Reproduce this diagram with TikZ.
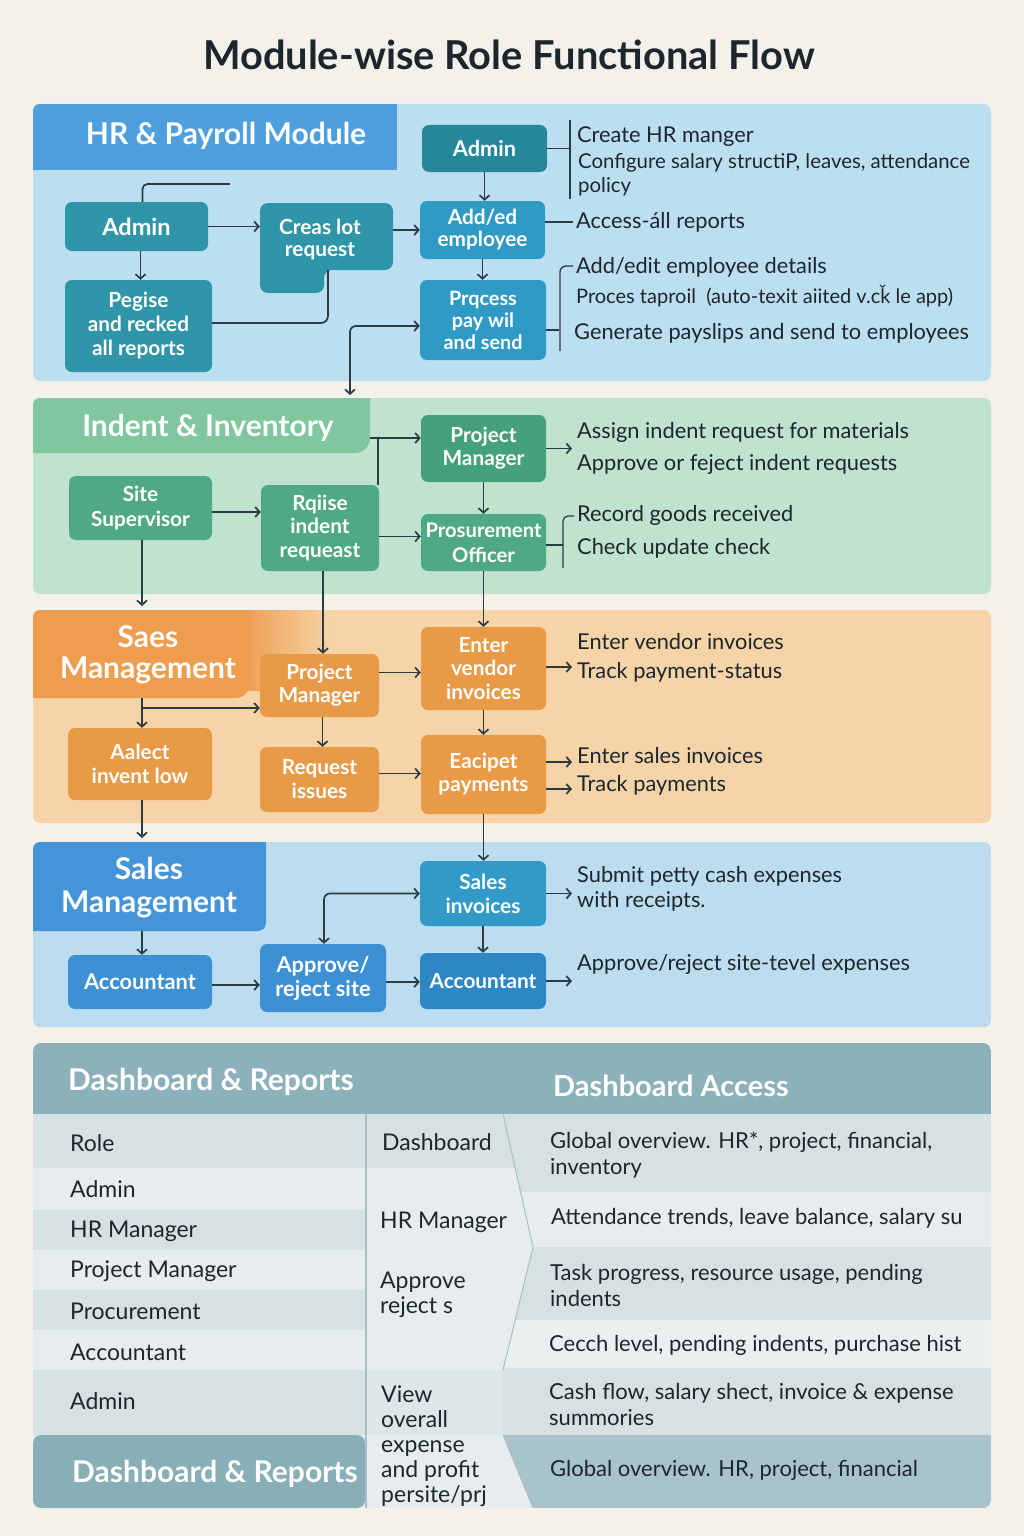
\documentclass[tikz,border=0pt]{standalone}
\usepackage{fontspec}
\setmainfont{Lato}
\usetikzlibrary{arrows.meta,calc}

\definecolor{pagebg}{HTML}{F4F1EB}
\definecolor{inkc}{HTML}{1D262C}
\definecolor{linec}{HTML}{2C3A42}
\definecolor{hrpanel}{HTML}{BCDEF1}
\definecolor{hrtab}{HTML}{4D9FDD}
\definecolor{hrteal}{HTML}{2F95A8}
\definecolor{hrteald}{HTML}{24879A}
\definecolor{hrblue}{HTML}{2F9AC4}
\definecolor{grpanel}{HTML}{C0E3CF}
\definecolor{grtab}{HTML}{80C69E}
\definecolor{grnode}{HTML}{50A985}
\definecolor{grnoded}{HTML}{45A07C}
\definecolor{orpanel}{HTML}{F6D4A7}
\definecolor{ortab}{HTML}{EE9C4E}
\definecolor{ornode}{HTML}{E99A47}
\definecolor{blpanel}{HTML}{BCDDF0}
\definecolor{bltab}{HTML}{4594D8}
\definecolor{blnode}{HTML}{3C90D3}
\definecolor{blteal}{HTML}{3399C8}
\definecolor{blnoded}{HTML}{2E87C5}
\definecolor{dbhead}{HTML}{8DB1BA}
\definecolor{dbfoot}{HTML}{88AEB7}
\definecolor{dbrowa}{HTML}{D6E1E3}
\definecolor{dbrowb}{HTML}{E7EDEE}
\definecolor{dbrowc}{HTML}{EAEFF0}
\definecolor{dbmid}{HTML}{E7EDEE}
\definecolor{dbmidd}{HTML}{DDE6E8}
\definecolor{dbfootr}{HTML}{A9C3CA}
\definecolor{dbedge}{HTML}{A9BFC5}

\begin{document}
\begin{tikzpicture}[x=1pt,y=-1pt,
  conn/.style={draw=linec,line width=1.7pt},
  arr/.style={conn,-{Straight Barb[length=4.5pt,width=10pt]}},
  arrs/.style={conn,{Straight Barb[length=4.5pt,width=10pt]}-{Straight Barb[length=4.5pt,width=10pt]}},
  tick/.style={draw=linec,line width=1.3pt},
  flowbox/.style={rounded corners=7pt,text=white,align=center,inner sep=0pt,
    font=\bfseries\fontsize{20.8}{23}\selectfont},
  headtxt/.style={text=white,align=center,inner sep=0pt,
    font=\bfseries\fontsize{30}{32}\selectfont},
  note/.style={anchor=west,text=inkc,inner sep=0pt,align=left,
    font=\fontsize{21.8}{25}\selectfont},
  smallnote/.style={note,font=\fontsize{20.4}{24}\selectfont},
  cell/.style={anchor=west,text=inkc,inner sep=0pt,align=left,
    font=\fontsize{23}{25}\selectfont},
  rcell/.style={anchor=west,text=inkc,inner sep=0pt,align=left,
    font=\fontsize{22}{26}\selectfont}
]
\useasboundingbox (0,0) rectangle (1024,1536);
\fill[pagebg] (0,0) rectangle (1024,1536);

% ---------- title ----------
\node[text=inkc,font=\bfseries\fontsize{39.8}{44}\selectfont] (title) at (509,55) {Module-wise Role Functional Flow};

% ---------- panels and tabs ----------
\fill[hrpanel, rounded corners=7pt] (33,104) rectangle (991,381);
\begin{scope}
  \clip[rounded corners=7pt] (33,104) rectangle (991,381);
  \fill[hrtab] (33,104) rectangle (397,170);
\end{scope}

\fill[grpanel, rounded corners=7pt] (33,398) rectangle (991,594);
\begin{scope}
  \clip[rounded corners=7pt] (33,398) rectangle (991,594);
  \fill[grtab, rounded corners=15pt] (10,370) rectangle (370,453);
\end{scope}

\fill[orpanel, rounded corners=7pt] (33,610) rectangle (991,823);
\begin{scope}
  \clip[rounded corners=7pt] (33,610) rectangle (991,823);
  \shade[left color=ortab, right color=orpanel] (240,610) rectangle (330,690);
  \fill[ortab, rounded corners=14pt] (10,590) rectangle (250,698);
\end{scope}

\fill[blpanel, rounded corners=7pt] (33,842) rectangle (991,1027);
\begin{scope}
  \clip[rounded corners=7pt] (33,842) rectangle (991,1027);
  \fill[bltab, rounded corners=8pt] (10,820) rectangle (266,931);
\end{scope}

% ---------- section headers ----------
\node[headtxt] (hrhead) at (226,136) {HR \& Payroll Module};
\node[headtxt] (ghead) at (208,428) {Indent \& Inventory};
\node[headtxt, font=\bfseries\fontsize{30}{31}\selectfont] (ohead) at (148,655) {Saes\\Management};
\node[headtxt, font=\bfseries\fontsize{30}{33}\selectfont] (bhead) at (149,888) {Sales\\Management};

% ---------- HR & Payroll nodes ----------
\node[flowbox, fill=hrteal, minimum width=143pt, minimum height=49pt,
  font=\bfseries\fontsize{23.5}{26}\selectfont] (hadm) at (136.5,226.5) {Admin};
\fill[hrteal, rounded corners=8pt] (260,203) -- (393,203) -- (393,270) -- (324,270) -- (324,293) -- (260,293) -- cycle;
\node[minimum width=133pt, minimum height=67pt, inner sep=0pt] (hcreas) at (326.5,236.5) {};
\node[flowbox, font=\bfseries\fontsize{20.8}{22}\selectfont] (hcreaslbl) at (320,240) {Creas lot\\request};
\node[flowbox, fill=hrteal, minimum width=147pt, minimum height=92pt,
  font=\bfseries\fontsize{20.8}{24}\selectfont] (hpeg) at (138.5,326) {Pegise\\and recked\\all reports};
\node[flowbox, fill=hrteald, minimum width=125pt, minimum height=47pt,
  font=\bfseries\fontsize{21.8}{24}\selectfont] (hadm2) at (484.5,148.5) {Admin};
\node[flowbox, fill=hrblue, minimum width=125pt, minimum height=58pt,
  font=\bfseries\fontsize{20.8}{22}\selectfont] (hadd) at (482.5,230) {Add/ed\\employee};
\node[flowbox, fill=hrblue, minimum width=126pt, minimum height=80pt,
  font=\bfseries\fontsize{19.8}{22}\selectfont] (hproc) at (483,320) {Prqcess\\pay wil\\and send};

% ---------- Indent & Inventory nodes ----------
\node[flowbox, fill=grnode, minimum width=143pt, minimum height=64pt,
  font=\bfseries\fontsize{20.8}{25}\selectfont] (gsite) at (140.5,508) {Site\\Supervisor};
\node[flowbox, fill=grnode, minimum width=118pt, minimum height=86pt,
  font=\bfseries\fontsize{20.8}{23.5}\selectfont] (graise) at (320,528) {Rqiise\\indent\\requeast};
\node[flowbox, fill=grnoded, minimum width=125pt, minimum height=67pt] (gpm) at (483.5,448.5) {Project\\Manager};
\node[flowbox, fill=grnode, minimum width=125pt, minimum height=57pt,
  font=\bfseries\fontsize{20.2}{25}\selectfont] (gproc) at (483.5,542.5) {Prosurement\\Officer};

% ---------- Saes Management nodes ----------
\node[flowbox, fill=ornode, minimum width=119pt, minimum height=63pt] (opm) at (319.5,685.5) {Project\\Manager};
\node[flowbox, fill=ornode, minimum width=125pt, minimum height=83pt,
  font=\bfseries\fontsize{20.8}{23.5}\selectfont] (oenter) at (483.5,668.5) {Enter\\vendor\\invoices};
\node[flowbox, fill=ornode, minimum width=144pt, minimum height=72pt,
  font=\bfseries\fontsize{20.8}{24}\selectfont] (oaalect) at (140,764) {Aalect\\invent low};
\node[flowbox, fill=ornode, minimum width=119pt, minimum height=65pt,
  font=\bfseries\fontsize{20.8}{24}\selectfont] (oreq) at (319.5,779.5) {Request\\issues};
\node[flowbox, fill=ornode, minimum width=125pt, minimum height=79pt] (oeac) at (483.5,774.5) {Eacipet\\payments};

% ---------- Sales Management nodes ----------
\node[flowbox, fill=blnode, minimum width=144pt, minimum height=54pt,
  font=\bfseries\fontsize{21.8}{24}\selectfont] (bacc) at (140,982) {Accountant};
\node[flowbox, fill=blnode, minimum width=126pt, minimum height=68pt,
  font=\bfseries\fontsize{21.8}{24}\selectfont] (bappr) at (323,978) {Approve/\\reject site};
\node[flowbox, fill=blteal, minimum width=126pt, minimum height=65pt,
  font=\bfseries\fontsize{20.8}{24}\selectfont] (bsales) at (483,893.5) {Sales\\invoices};
\node[flowbox, fill=blnoded, minimum width=126pt, minimum height=56pt] (bacc2) at (483,981) {Accountant};

% ---------- side notes ----------
\node[note] (th1) at (577,137) {Create HR manger};
\node[smallnote] (th2) at (578,163) {Configure salary structiP, leaves, attendance};
\node[smallnote] (th3) at (578,187) {policy};
\node[note] (th4) at (576,222) {Access-áll reports};
\node[note] (th5) at (576,267) {Add/edit employee details};
\node[smallnote, font=\fontsize{20}{24}\selectfont] (th6) at (576,296) {Proces taproil\ \ (auto-texit aiited v.cǩ le app)};
\node[note] (th7) at (574,333) {Generate payslips and send to employees};

\node[note] (tg1) at (577,432) {Assign indent request for materials};
\node[note] (tg2) at (577,464) {Approve or feject indent requests};
\node[note] (tg3) at (577,515) {Record goods received};
\node[note] (tg4) at (577,548) {Check update check};

\node[note] (to1) at (577,642) {Enter vendor invoices};
\node[note] (to2) at (577,672) {Track payment-status};
\node[note] (to3) at (577,756) {Enter sales invoices};
\node[note] (to4) at (577,785) {Track payments};

\node[note] (tb1) at (577,876) {Submit petty cash expenses};
\node[note] (tb2) at (577,901) {with receipts.};
\node[note] (tb3) at (577,964) {Approve/reject site-tevel expenses};

% ---------- helper points ----------
\coordinate (hfree) at (230,184);
\coordinate (hcin) at (328,270);
\coordinate (hdown) at (350,395);
\coordinate (hb1t) at (570,120);
\coordinate (hb1b) at (570,199);
\coordinate (hb2a) at (573,266);
\coordinate (hb2b) at (560,351);
\coordinate (gtabr) at (370,438);
\coordinate (gj) at (378,438);
\coordinate (gb2a) at (574,516);
\coordinate (gb2b) at (563,568);
\coordinate (gdown) at (142,606);
\coordinate (ohbot) at (142,698);
\coordinate (oj) at (142,708);
\coordinate (odown) at (142,838);
\coordinate (bhbot) at (142,931);

% ---------- HR & Payroll connectors ----------
\draw[conn, rounded corners=5pt] ([xshift=6pt]hadm.north) |- (hfree);
\draw[arr] (hadm.east) -- (hadm.east -| hcreas.west);
\draw[arr] ([xshift=4pt]hadm.south) -- ([xshift=4pt]hadm.south |- hpeg.north);
\draw[conn, rounded corners=7pt] ([yshift=3pt]hpeg.east) -| (hcin);
\draw[arr] (hadd.west -| hcreas.east) -- (hadd.west);
\draw[arr] (hadm2.south) -- (hadm2.south |- hadd.north);
\draw[arr] (hadd.south) -- (hadd.south |- hproc.north);
\draw[arrs, rounded corners=6pt] (hdown) |- ([yshift=-6pt]hproc.west);
\draw[tick] (hadm2.east) -- (hadm2.east -| hb1t);
\draw[tick] (hb1t) -- (hb1b);
\draw[tick] (th4.west -| hadd.east) -- ([xshift=-3pt]th4.west);
\draw[tick, rounded corners=6pt] (hb2a) -| (hb2b);
\draw[tick] ([yshift=-10pt]hproc.east) -- ++(13,0);

% ---------- Indent & Inventory connectors ----------
\draw[arr] ([yshift=-4pt]gsite.east) -- ([yshift=-4pt]gsite.east -| graise.west);
\draw[conn] (gtabr) -- (gj);
\draw[arr] (graise.north -| gj) -- (gj) -- (gj -| gpm.west);
\draw[arr] ([yshift=6pt]gproc.west -| graise.east) -- ([yshift=6pt]gproc.west);
\draw[arr] (gpm.south) -- (gproc.north);
\draw[arr] (gpm.east) -- ([xshift=-5pt]gpm.east -| tg1.west);
\draw[tick, rounded corners=5pt] (gb2a) -| (gb2b);
\draw[tick] ([yshift=-2.5pt]gproc.east) -- ([yshift=-2.5pt]gproc.east -| gb2b);
\draw[arr] ([xshift=1.5pt]gsite.south) -- (gdown);
\draw[arr] ([xshift=3pt]graise.south) -- ([xshift=3pt]graise.south |- opm.north);
\draw[arr] (gproc.south) -- (oenter.north);

% ---------- Saes Management connectors ----------
\draw[arr] (ohbot) -- (ohbot |- oaalect.north);
\draw[arr] (oj) -- (oj -| opm.west);
\draw[arr] ([yshift=13pt]opm.east) -- ([yshift=13pt]opm.east -| oenter.west);
\draw[arr] ([xshift=3pt]opm.south) -- ([xshift=3pt]opm.south |- oreq.north);
\draw[arr] (oenter.south) -- (oeac.north);
\draw[arr] ([yshift=6pt]oreq.east) -- ([yshift=6pt]oreq.east -| oeac.west);
\draw[arr] ([yshift=1.5pt]oenter.east) -- ([xshift=-5pt,yshift=1.5pt]oenter.east -| to2.west);
\draw[arr] ([yshift=12.5pt]oeac.east) -- ([xshift=-5pt,yshift=12.5pt]oeac.east -| to3.west);
\draw[arr] ([yshift=-14.5pt]oeac.east) -- ([xshift=-5pt,yshift=-14.5pt]oeac.east -| to4.west);
\draw[arr] ([xshift=2pt]oaalect.south) -- (odown);
\draw[arr] (oeac.south) -- (oeac.south |- bsales.north);

% ---------- Sales Management connectors ----------
\draw[arr] (bhbot) -- (bhbot |- bacc.north);
\draw[arr] ([yshift=-3pt]bacc.east) -- ([yshift=-3pt]bacc.east -| bappr.west);
\draw[arrs, rounded corners=6pt] ([xshift=1pt]bappr.north) |- (bsales.west);
\draw[arr] ([yshift=-4pt]bappr.east) -- ([yshift=-4pt]bappr.east -| bacc2.west);
\draw[arr] (bsales.south) -- (bacc2.north);
\draw[arr] (bsales.east) -- ([xshift=-5pt]bsales.east -| tb1.west);
\draw[arr] (bacc2.east) -- ([xshift=-5pt]bacc2.east -| tb3.west);

% ---------- Dashboard & Reports table ----------
\begin{scope}
  \clip[rounded corners=8pt] (33,1043) rectangle (991,1508);
  \fill[dbrowb] (33,1043) rectangle (991,1508);
  \fill[dbhead] (33,1043) rectangle (991,1114);
  % role column bands
  \fill[dbrowa] (33,1114) rectangle (365,1168);
  \fill[dbrowb] (33,1168) rectangle (365,1210);
  \fill[dbrowa] (33,1210) rectangle (365,1250);
  \fill[dbrowb] (33,1250) rectangle (365,1290);
  \fill[dbrowa] (33,1290) rectangle (365,1330);
  \fill[dbrowb] (33,1330) rectangle (365,1370);
  \fill[dbrowa] (33,1370) rectangle (365,1435);
  % access column bands
  \fill[dbrowa] (480,1114) rectangle (991,1192);
  \fill[dbrowb] (480,1192) rectangle (991,1247);
  \fill[dbrowa] (480,1247) rectangle (991,1320);
  \fill[dbrowc] (480,1320) rectangle (991,1368);
  \fill[dbrowa] (480,1368) rectangle (991,1435);
  \fill[dbfootr] (480,1435) rectangle (991,1508);
  % middle column with chevron edge
  \begin{scope}
    \clip (366,1114) -- (503,1114) -- (533,1247) -- (503,1370) -- (503,1435) -- (533,1508) -- (366,1508) -- cycle;
    \fill[dbmid] (366,1114) rectangle (540,1508);
    \fill[dbrowa] (366,1114) rectangle (540,1168);
    \fill[dbmidd] (366,1370) rectangle (540,1435);
  \end{scope}
  \draw[dbedge, line width=1pt] (503,1114) -- (533,1247) -- (503,1370);
  \draw[dbedge, line width=1pt] (503,1435) -- (533,1508);
  \draw[dbedge, line width=1.2pt] (366,1114) -- (366,1508);
\end{scope}
\fill[dbfoot, rounded corners=8pt] (33,1435) rectangle (365,1508);

\node[headtxt, anchor=west] (dbh1) at (68,1082) {Dashboard \& Reports};
\node[headtxt, anchor=west, font=\bfseries\fontsize{29}{32}\selectfont] (dbh2) at (553,1086) {Dashboard Access};
\node[headtxt, anchor=west] (dbf1) at (72,1474) {Dashboard \& Reports};

\node[cell] (r0) at (70,1143) {Role};
\node[cell] (r1) at (70,1189) {Admin};
\node[cell] (r2) at (70,1231) {HR Manager};
\node[cell] (r3) at (70,1271) {Project Manager};
\node[cell] (r4) at (70,1311) {Procurement};
\node[cell] (r5) at (70,1352) {Accountant};
\node[cell] (r6) at (70,1401) {Admin};

\node[cell] (m0) at (382,1142) {Dashboard};
\node[cell] (m1) at (380,1222) {HR Manager};
\node[cell] (m2) at (380,1294.5) {Approve\\reject s};
\node[cell] (m3) at (381,1446) {View\\overall\\expense\\and profit\\persite/prj};

\node[rcell] (a0) at (550,1155) {Global overview. HR*, project, financial,\\inventory};
\node[rcell] (a1) at (551,1218) {Attendance trends, leave balance, salary su};
\node[rcell] (a2) at (550,1285) {Task progress, resource usage, pending\\indents};
\node[rcell] (a3) at (549,1345) {Cecch level, pending indents, purchase hist};
\node[rcell] (a4) at (549,1404.5) {Cash flow, salary shect, invoice \& expense\\summories};
\node[rcell] (a5) at (550,1470) {Global overview. HR, project, financial};

\end{tikzpicture}
\end{document}
